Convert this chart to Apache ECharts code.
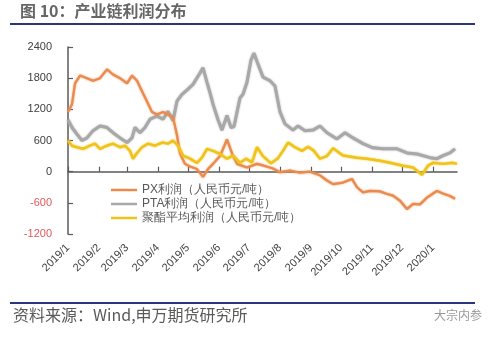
<!DOCTYPE html>
<html><head><meta charset="utf-8">
<script src="https://cdn.jsdelivr.net/npm/echarts@6/dist/echarts.min.js"></script>
<style>html,body{margin:0;padding:0;background:#fff}#c{width:500px;height:337px}</style>
</head><body><div id="c"></div>
<script>
const monthLabels = ['2019/1','2019/2','2019/3','2019/4','2019/5','2019/6','2019/7','2019/8','2019/9','2019/10','2019/11','2019/12','2020/1'];
const yTicks = [-1200,-600,0,600,1200,1800,2400];
const seriesNames = ['PX利润（人民币元/吨）','PTA利润（人民币元/吨）','聚酯平均利润（人民币元/吨）'];

const pxDates = ['2019-01-01','2019-01-05','2019-01-08','2019-01-13','2019-01-20','2019-01-26','2019-02-02','2019-02-09','2019-02-15','2019-02-22','2019-03-01','2019-03-06','2019-03-11','2019-03-16','2019-03-21','2019-03-26','2019-03-31','2019-04-06','2019-04-11','2019-04-16','2019-04-20','2019-04-23','2019-04-28','2019-05-03','2019-05-10','2019-05-16','2019-05-21','2019-05-26','2019-06-02','2019-06-09','2019-06-14','2019-06-19','2019-06-29','2019-07-09','2019-07-15','2019-07-25','2019-08-01','2019-08-11','2019-08-21','2019-08-31','2019-09-10','2019-09-17','2019-09-23','2019-10-03','2019-10-12','2019-10-17','2019-10-23','2019-10-30','2019-11-09','2019-11-16','2019-11-22','2019-11-29','2019-12-06','2019-12-12','2019-12-19','2019-12-26','2020-01-01','2020-01-05','2020-01-11','2020-01-18','2020-01-23'];
const pxProfit = [1150,1300,1700,1850,1800,1750,1800,1970,1870,1800,1700,1850,1750,1550,1350,1150,1100,1150,1100,1050,700,350,150,100,50,-100,50,150,300,620,350,150,80,150,120,60,-10,20,-20,0,-70,-170,-240,-210,-140,-300,-400,-370,-380,-430,-460,-560,-720,-620,-630,-500,-420,-370,-420,-470,-520];

const ptaDates = ['2019-01-01','2019-01-05','2019-01-10','2019-01-15','2019-01-20','2019-01-26','2019-02-02','2019-02-09','2019-02-15','2019-02-22','2019-03-01','2019-03-06','2019-03-09','2019-03-14','2019-03-19','2019-03-24','2019-03-31','2019-04-06','2019-04-11','2019-04-16','2019-04-20','2019-04-25','2019-05-01','2019-05-06','2019-05-13','2019-05-16','2019-05-20','2019-05-23','2019-05-26','2019-05-31','2019-06-04','2019-06-09','2019-06-13','2019-06-16','2019-06-22','2019-06-25','2019-06-29','2019-07-03','2019-07-06','2019-07-10','2019-07-15','2019-07-22','2019-07-27','2019-08-01','2019-08-06','2019-08-14','2019-08-19','2019-08-26','2019-09-03','2019-09-10','2019-09-17','2019-09-27','2019-10-05','2019-10-13','2019-10-23','2019-11-02','2019-11-12','2019-11-26','2019-12-06','2019-12-16','2019-12-29','2020-01-05','2020-01-11','2020-01-18','2020-01-23'];
const ptaProfit = [1000,850,720,600,650,790,880,850,750,650,560,650,850,750,850,1010,1070,1010,1160,980,1360,1490,1590,1680,1900,2000,1720,1520,1300,1000,800,1080,850,870,1420,1490,1720,2150,2280,2070,1820,1750,1650,1150,920,800,880,790,800,880,750,630,750,650,540,460,440,440,360,340,270,250,310,360,440];

const polyDates = ['2019-01-01','2019-01-05','2019-01-10','2019-01-16','2019-01-23','2019-01-28','2019-02-02','2019-02-09','2019-02-15','2019-02-22','2019-02-27','2019-03-04','2019-03-07','2019-03-11','2019-03-16','2019-03-22','2019-03-29','2019-04-05','2019-04-11','2019-04-16','2019-04-21','2019-04-26','2019-05-03','2019-05-10','2019-05-15','2019-05-20','2019-05-26','2019-06-02','2019-06-09','2019-06-15','2019-06-22','2019-06-28','2019-07-04','2019-07-09','2019-07-15','2019-07-23','2019-07-30','2019-08-04','2019-08-09','2019-08-16','2019-08-23','2019-08-29','2019-09-04','2019-09-10','2019-09-17','2019-09-23','2019-10-03','2019-10-17','2019-10-27','2019-11-09','2019-11-19','2019-12-02','2019-12-12','2019-12-21','2019-12-27','2020-01-01','2020-01-11','2020-01-21','2020-01-25'];
const polyProfit = [600,500,470,440,500,540,440,500,540,470,500,400,250,360,470,540,500,560,540,600,500,310,250,170,270,440,400,340,250,310,170,250,180,470,300,160,260,400,560,470,400,480,400,250,300,450,310,270,250,210,170,115,80,-60,115,170,150,170,150];

const axisStart = '2019-01-01';
const axisEnd = '2020-01-25';

function dayOf(s) {
  const p = s.split(/[-\/]/).map(Number);
  const b = axisStart.split('-').map(Number);
  return Math.round((Date.UTC(p[0], p[1]-1, p[2] || 1) - Date.UTC(b[0], b[1]-1, b[2])) / 86400000);
}
const tickDays = monthLabels.map(l => dayOf(l));
const labelOf = {};
tickDays.forEach((d, i) => { labelOf[d] = monthLabels[i]; });
function pairs(dates, vals) { return dates.map((d, i) => [dayOf(d), vals[i]]); }

const chart = echarts.init(document.getElementById('c'), null, {renderer: 'canvas'});
const axisColor = '#5a5a5a';
const font = '"Liberation Sans", Arial, sans-serif';
const cjk = '"Noto Sans CJK SC", sans-serif';
function lineSeries(name, dates, vals, color, width, z) {
  return {name: name, type: 'line', showSymbol: false, data: pairs(dates, vals), z: z,
    lineStyle: {color: color, width: width, shadowColor: color, shadowBlur: 2},
    itemStyle: {color: color}};
}
chart.setOption({
  animation: false,
  backgroundColor: '#ffffff',
  textStyle: {fontFamily: font},
  grid: {left: 68, right: 43, top: 47, bottom: 103, containLabel: false},
  xAxis: [{
    type: 'value', min: 0, max: dayOf(axisEnd), position: 'bottom',
    axisLine: {show: true, onZero: true, lineStyle: {color: axisColor, width: 1.5}},
    axisTick: {show: true, inside: true, length: 5, customValues: tickDays, lineStyle: {color: axisColor, width: 1.2}},
    axisLabel: {show: false},
    splitLine: {show: false}
  }, {
    type: 'value', min: 0, max: dayOf(axisEnd), position: 'bottom',
    axisLine: {show: false, onZero: false},
    axisTick: {show: false},
    splitLine: {show: false},
    axisLabel: {
      show: true, rotate: 45, margin: 12, fontSize: 11, color: '#404040', fontFamily: font,
      customValues: tickDays,
      formatter: v => labelOf[Math.round(v)] || ''
    }
  }],
  yAxis: {
    type: 'value', min: yTicks[0], max: yTicks[yTicks.length-1], interval: 600,
    axisLine: {show: true, lineStyle: {color: axisColor, width: 1.5}},
    axisTick: {show: true, inside: true, length: 5, lineStyle: {color: axisColor, width: 1.2}},
    splitLine: {show: false},
    axisLabel: {
      margin: 16, fontSize: 11, fontFamily: font, color: '#404040',
      formatter: v => v < 0 ? '{neg|' + v + '}' : '' + v,
      rich: {neg: {color: '#e0575a', fontSize: 11, fontFamily: font}}
    }
  },
  legend: {
    orient: 'vertical', left: 106, top: 179, itemGap: 2,
    icon: 'rect', itemWidth: 26, itemHeight: 2.5,
    textStyle: {fontSize: 12, color: '#595959', fontFamily: font},
    data: seriesNames
  },
  series: [
    lineSeries(seriesNames[1], ptaDates, ptaProfit, '#a8a8a8', 3, 2),
    lineSeries(seriesNames[0], pxDates, pxProfit, '#e98b4e', 2.2, 3),
    lineSeries(seriesNames[2], polyDates, polyProfit, '#f0c31c', 2.5, 4)
  ],
  graphic: [
    {type: 'text', left: 20, top: 3, style: {text: '图 10：产业链利润分布', fontSize: 16, fontWeight: 'bold', fill: '#666666', fontFamily: cjk}},
    {type: 'rect', shape: {x: 10, y: 23, width: 465, height: 2}, style: {fill: '#2d357f'}},
    {type: 'rect', shape: {x: 10, y: 302, width: 465, height: 2}, style: {fill: '#2d357f'}},
    {type: 'text', left: 13, top: 307, style: {text: '资料来源：Wind,申万期货研究所', fontSize: 16, fill: '#5a5a5a', fontFamily: cjk}},
    {type: 'text', left: 434, top: 309, style: {text: '大宗内参', fontSize: 12, fill: '#9a9a9a', fontFamily: cjk}}
  ]
});
</script></body></html>
